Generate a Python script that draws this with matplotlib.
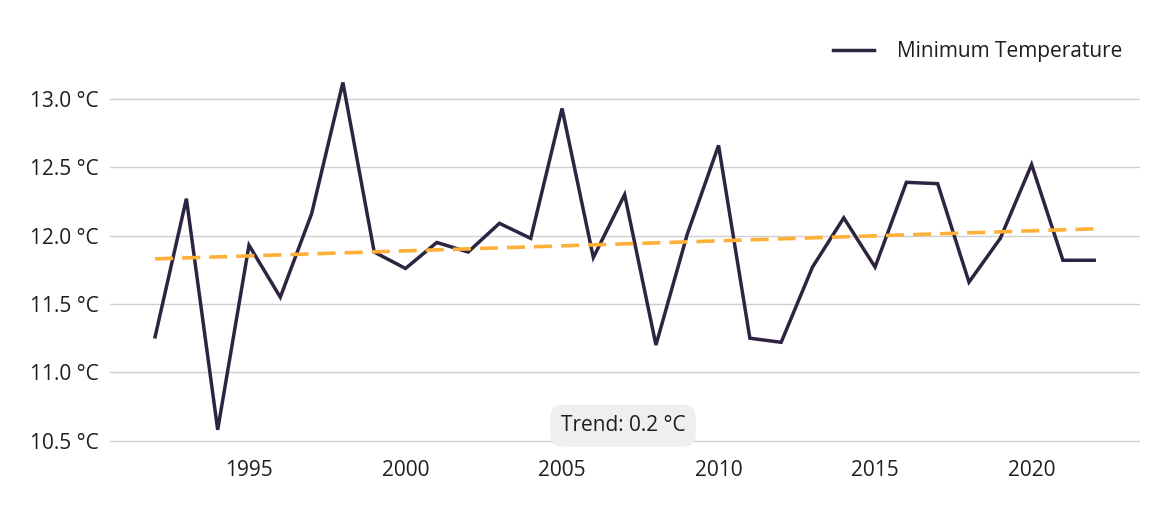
import numpy as np
import matplotlib
matplotlib.use("Agg")
import matplotlib.pyplot as plt

plt.rcParams['font.family'] = ['Open Sans', 'DejaVu Sans']

years = list(range(1992, 2023))
min_temp = [11.26, 12.27, 10.58, 11.93, 11.55, 12.16, 13.12, 11.88, 11.76, 11.95,
            11.88, 12.09, 11.98, 12.93, 11.84, 12.30, 11.20, 12.01, 12.66, 11.25,
            11.22, 11.77, 12.13, 11.77, 12.39, 12.38, 11.66, 11.98, 12.52, 11.82,
            11.82]
trend_years = [1992, 2022]
trend_values = [11.83, 12.05]
trend_label = "Trend: 0.2 °C"
y_ticks = [10.5, 11.0, 11.5, 12.0, 12.5, 13.0]
x_ticks = [1995, 2000, 2005, 2010, 2015, 2020]

fig = plt.figure(figsize=(11.74, 5.11), dpi=100)
ax = fig.add_axes([0.0937, 0.1294, 0.877, 0.744])

ax.plot(years, min_temp, color='#2e2442', lw=2.5, label='Minimum Temperature',
        solid_joinstyle='miter', zorder=3)
ax.plot(trend_years, trend_values, color='#ffb038', lw=2.6, ls=(0, (5, 2.5)), zorder=4)

ax.set_xlim(1990.56, 2023.45)
ax.set_ylim(10.47, 13.25)
ax.set_xticks(x_ticks)
ax.set_yticks(y_ticks)
ax.set_yticklabels([f"{v:.1f} °C" for v in y_ticks])
ax.tick_params(length=0, labelsize=15, colors='#1e1e1e', pad=8)
ax.tick_params(axis='x', pad=11)
ax.grid(axis='y', color='#cfcfcf', lw=1)
ax.set_axisbelow(True)
for s in ax.spines.values():
    s.set_visible(False)

ax.text(2006.95, 10.61, trend_label, ha='center', va='center', fontsize=15,
        color='#1e1e1e', zorder=5,
        bbox=dict(boxstyle='round,pad=0.5,rounding_size=0.6', fc='#efefef', ec='none'))

leg = fig.legend(loc='center right', bbox_to_anchor=(1131 / 1174, 1 - 52 / 511),
                 frameon=False, fontsize=15, handlelength=2.0, handletextpad=1.1,
                 borderaxespad=0)
for txt in leg.get_texts():
    txt.set_color('#1e1e1e')

fig.savefig('out.png', dpi=100)
